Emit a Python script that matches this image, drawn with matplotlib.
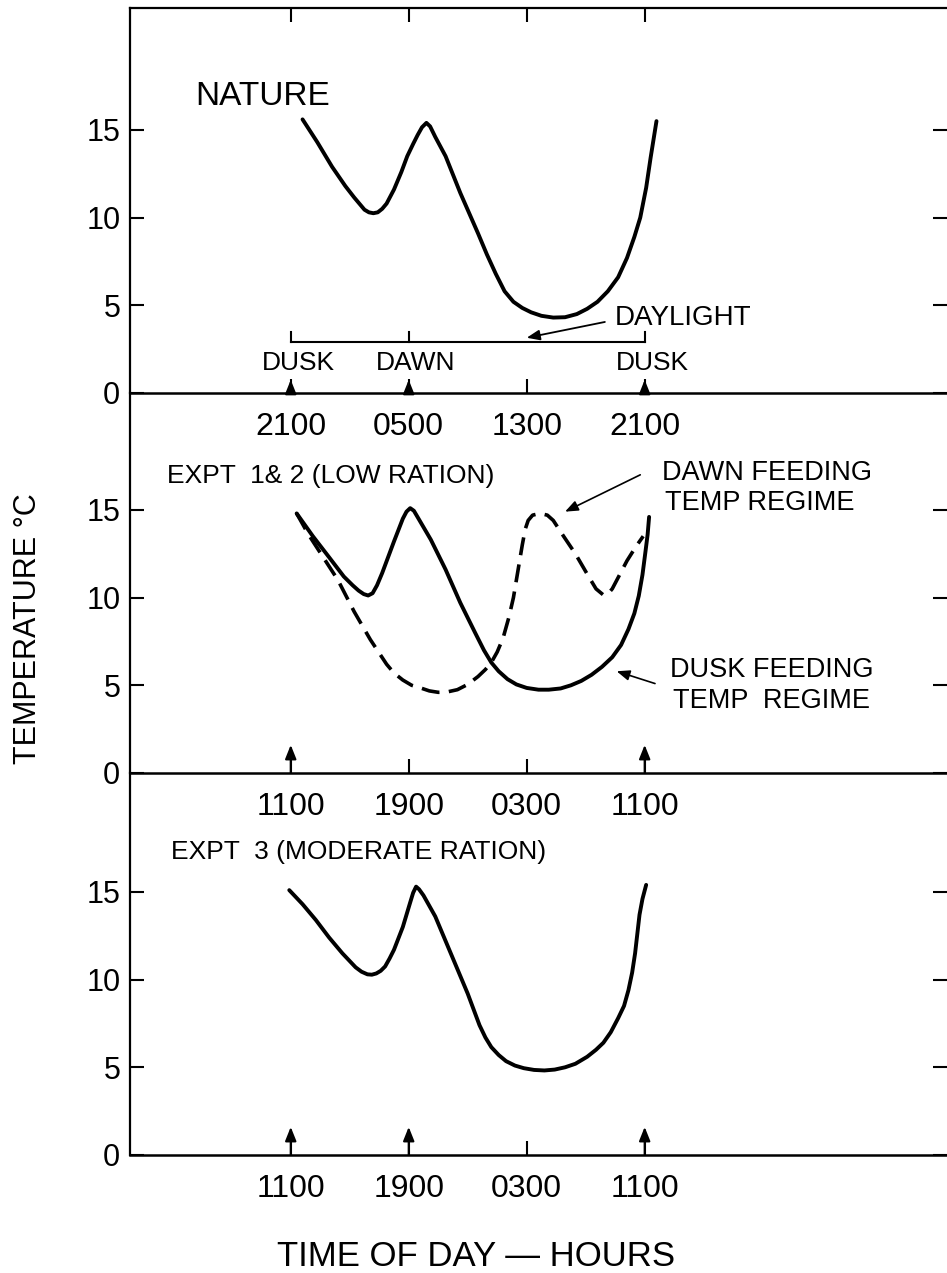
import matplotlib.pyplot as plt

plt.rcParams['font.family'] = ['Liberation Sans', 'DejaVu Sans']

# hours after the first marked time of each panel
hour_ticks = [0, 8, 16, 24]
nature_tick_labels = ['2100', '0500', '1300', '2100']
expt_tick_labels = ['1100', '1900', '0300', '1100']
temp_ticks = [0, 5, 10, 15]

# NATURE
nature_hours = [0.8, 1.8, 2.8, 3.7, 4.3, 4.7, 5.0, 5.3, 5.6, 5.9, 6.2, 6.5, 7.0, 7.5,
                7.9, 8.3, 8.6, 8.9, 9.2, 9.45, 9.8, 10.5, 11.5, 12.7, 13.3, 13.9,
                14.5, 15.1, 15.7, 16.3, 17.0, 17.8, 18.6, 19.4, 20.1, 20.8, 21.5,
                22.2, 22.8, 23.3, 23.7, 24.1, 24.4, 24.8]
nature_temp = [15.6, 14.3, 12.9, 11.8, 11.15, 10.75, 10.45, 10.3, 10.25, 10.3, 10.5,
               10.8, 11.6, 12.6, 13.5, 14.2, 14.7, 15.15, 15.4, 15.2, 14.6, 13.5,
               11.4, 9.1, 7.9, 6.8, 5.8, 5.2, 4.85, 4.6, 4.4, 4.3, 4.32, 4.5, 4.8,
               5.2, 5.8, 6.6, 7.7, 8.9, 10.0, 11.7, 13.4, 15.5]
daylight_marks = [0, 8, 24]
daylight_level = 2.9

# EXPT 1 & 2 (low ration)
dusk_hours = [0.4, 1.5, 2.6, 3.6, 4.2, 4.6, 4.95, 5.25, 5.55, 5.85, 6.2, 7.0, 7.6,
              7.85, 8.1, 8.35, 8.7, 9.5, 10.5, 11.5, 12.5, 13.1, 13.6, 14.1, 14.7,
              15.3, 16.0, 16.8, 17.5, 18.3, 19.0, 19.7, 20.4, 21.1, 21.8, 22.4, 22.9,
              23.3, 23.6, 23.85, 24.05, 24.2, 24.3]
dusk_temp = [14.8, 13.5, 12.3, 11.2, 10.7, 10.4, 10.2, 10.12, 10.25, 10.7, 11.4, 13.2,
             14.5, 14.9, 15.1, 14.95, 14.45, 13.3, 11.6, 9.7, 8.0, 7.0, 6.3, 5.8,
             5.35, 5.05, 4.85, 4.75, 4.75, 4.82, 5.0, 5.25, 5.6, 6.05, 6.6, 7.3, 8.2,
             9.1, 10.1, 11.3, 12.6, 13.6, 14.6]
dawn_hours = [0.4, 1.2, 2.2, 3.2, 4.3, 5.4, 6.5, 7.0, 7.6, 8.2, 8.8, 9.4, 10.0, 10.6,
              11.3, 12.0, 12.7, 13.2, 13.6, 14.0, 14.4, 14.8, 15.1, 15.4, 15.7, 15.9,
              16.1, 16.4, 16.9, 17.4, 17.8, 18.5, 19.3, 20.2, 20.7, 21.2, 21.5, 21.8,
              22.3, 22.8, 23.4, 23.9]
dawn_temp = [14.8, 13.6, 12.3, 11.0, 9.2, 7.6, 6.2, 5.7, 5.3, 5.0, 4.85, 4.68, 4.6,
             4.62, 4.75, 5.05, 5.5, 5.9, 6.3, 6.9, 7.7, 8.9, 10.0, 11.5, 13.0, 13.9,
             14.4, 14.7, 14.8, 14.7, 14.4, 13.5, 12.5, 11.2, 10.5, 10.15, 10.2, 10.5,
             11.3, 12.1, 12.9, 13.5]

# EXPT 3 (moderate ration)
expt3_hours = [-0.1, 0.8, 1.7, 2.6, 3.5, 4.4, 4.8, 5.2, 5.5, 5.8, 6.1, 6.4, 6.7, 7.0,
               7.6, 8.1, 8.3, 8.5, 8.7, 9.0, 9.8, 10.9, 12.0, 12.4, 12.8, 13.2, 13.6,
               14.1, 14.6, 15.2, 15.8, 16.5, 17.2, 17.9, 18.6, 19.3, 20.1, 20.7, 21.2,
               21.7, 22.2, 22.6, 22.9, 23.15, 23.35, 23.5, 23.65, 23.85, 24.1]
expt3_temp = [15.1, 14.3, 13.4, 12.4, 11.5, 10.7, 10.45, 10.3, 10.28, 10.35, 10.5,
              10.75, 11.2, 11.7, 13.0, 14.4, 14.95, 15.3, 15.15, 14.8, 13.6, 11.4,
              9.2, 8.3, 7.4, 6.7, 6.15, 5.7, 5.35, 5.1, 4.95, 4.85, 4.82, 4.87, 5.0,
              5.2, 5.6, 6.0, 6.4, 7.0, 7.8, 8.5, 9.4, 10.4, 11.5, 12.6, 13.7, 14.6,
              15.4]

# arrows drawn on the time axis of each panel
panel_arrows = [[0, 8, 24], [0, 24], [0, 8, 24]]

fig = plt.figure(figsize=(9.47, 12.73), dpi=100)

left = 130 / 947
rects = [(left, 1 - 393 / 1273, 1 - left, 385 / 1273),
         (left, 1 - 773 / 1273, 1 - left, 380 / 1273),
         (left, 1 - 1155 / 1273, 1 - left, 382 / 1273)]
ytops = [385 / 17.54, 380 / 17.54, 382 / 17.54]
tick_sets = [nature_tick_labels, expt_tick_labels, expt_tick_labels]
arrow_len = [0.75, 1.6, 1.6]
head = '-|>,head_length=0.6,head_width=0.24'

axes = []
for i, rect in enumerate(rects):
    ax = fig.add_axes(rect)
    ax.patch.set_visible(False)
    ax.set_xlim(-10.9, 44.5)
    ax.set_ylim(0, ytops[i])
    ax.spines['right'].set_visible(False)
    ax.spines['left'].set_linewidth(1.6)
    ax.spines['bottom'].set_linewidth(1.8)
    ax.spines['top'].set_linewidth(1.6)
    if i > 0:
        ax.spines['top'].set_visible(False)
    ax.set_xticks(hour_ticks)
    ax.set_xticklabels(tick_sets[i])
    ax.set_yticks(temp_ticks)
    ax.tick_params(axis='x', direction='in', length=10, width=1.5, pad=13.5,
                   labelsize=23, top=(i == 0))
    ax.tick_params(axis='y', direction='in', length=10, width=1.5, pad=7,
                   labelsize=22, right=True)
    for h in panel_arrows[i]:
        ax.annotate('', xy=(h, arrow_len[i]), xytext=(h, 0),
                    arrowprops=dict(arrowstyle=head, lw=1.5, color='black',
                                    mutation_scale=14, shrinkA=0, shrinkB=0))
    axes.append(ax)

ax1, ax2, ax3 = axes

# NATURE panel
ax1.plot(nature_hours, nature_temp, color='black', lw=2.8,
         solid_capstyle='round', solid_joinstyle='round')
ax1.text(-6.5, 16.4, 'NATURE', fontsize=24, va='baseline')
ax1.plot([daylight_marks[0], daylight_marks[-1]], [daylight_level, daylight_level],
         color='black', lw=1.5)
for h in daylight_marks:
    ax1.plot([h, h], [daylight_level, daylight_level + 0.55], color='black', lw=1.5)
ax1.annotate('', xy=(16.0, 3.15), xytext=(21.3, 4.05),
             arrowprops=dict(arrowstyle=head, lw=1.3, color='black',
                             mutation_scale=13, shrinkA=0, shrinkB=0))
ax1.text(22.0, 3.88, 'DAYLIGHT', fontsize=20, va='baseline')
for h, name in zip(daylight_marks, ['DUSK', 'DAWN', 'DUSK']):
    ax1.text(h + 0.5, 1.31, name, fontsize=19, va='baseline', ha='center')

# EXPT 1 & 2 panel
ax2.plot(dusk_hours, dusk_temp, color='black', lw=2.8,
         solid_capstyle='round', solid_joinstyle='round')
ax2.plot(dawn_hours, dawn_temp, color='black', lw=2.6, linestyle=(0, (5, 2.6)))
ax2.text(-8.4, 16.53, 'EXPT  1& 2 (LOW RATION)', fontsize=19, va='baseline')
ax2.text(25.2, 16.7, 'DAWN FEEDING', fontsize=19.5, va='baseline')
ax2.text(25.4, 15.0, 'TEMP REGIME', fontsize=19.5, va='baseline')
ax2.text(25.7, 5.47, 'DUSK FEEDING', fontsize=19.5, va='baseline')
ax2.text(25.9, 3.7, 'TEMP  REGIME', fontsize=19.5, va='baseline')
ax2.annotate('', xy=(18.6, 14.9), xytext=(23.7, 17.0),
             arrowprops=dict(arrowstyle=head, lw=1.2, color='black',
                             mutation_scale=13, shrinkA=0, shrinkB=0))
ax2.annotate('', xy=(22.1, 5.8), xytext=(24.7, 5.1),
             arrowprops=dict(arrowstyle=head, lw=1.2, color='black',
                             mutation_scale=13, shrinkA=0, shrinkB=0))

# EXPT 3 panel
ax3.plot(expt3_hours, expt3_temp, color='black', lw=2.8,
         solid_capstyle='round', solid_joinstyle='round')
ax3.text(-8.1, 16.9, 'EXPT  3 (MODERATE RATION)', fontsize=19, va='baseline')

fig.text(0.0296, 0.506, 'TEMPERATURE °C', rotation=90, fontsize=22,
         ha='center', va='center')
fig.text(476 / 947, 1 - 1266 / 1273, 'TIME OF DAY — HOURS', fontsize=25,
         ha='center', va='baseline')

fig.savefig('out.png', dpi=100)
